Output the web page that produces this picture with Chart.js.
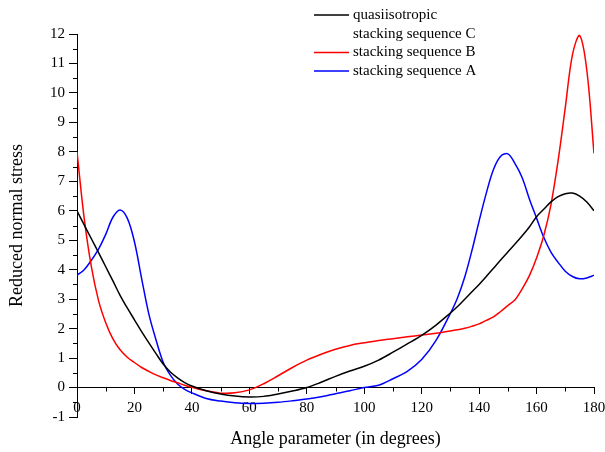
<!DOCTYPE html>
<html>
<head>
<meta charset="utf-8">
<script src="https://cdn.jsdelivr.net/npm/chart.js@4/dist/chart.umd.min.js"></script>
<style>
html,body{margin:0;padding:0;background:#fff;}
canvas{display:block;}
</style>
</head>
<body>
<canvas id="c" width="605" height="452"></canvas>
<script>
// Angle parameter (degrees)
const angles = [0,2.5,5,7.5,10,12.5,15,17.5,20,22.5,25,27.5,30,32.5,35,37.5,40,
  45,50,55,60,65,70,75,80,85,90,95,100,105,110,115,120,125,130,
  132.5,135,137.5,140,142.5,145,147.5,150,152.5,155,157.5,160,162.5,165,167.5,170,172.5,175,177.5,180];

// quasiisotropic stacking sequence C
const seqC = [6.0,5.52,5.05,4.58,4.1,3.62,3.13,2.7,2.3,1.9,1.52,1.15,0.8,0.53,0.33,0.17,0.05,
  -0.11,-0.22,-0.29,-0.32,-0.3,-0.22,-0.12,0.0,0.18,0.38,0.56,0.72,0.93,1.2,1.48,1.77,2.12,2.53,
  2.75,3.0,3.25,3.5,3.77,4.05,4.33,4.6,4.87,5.15,5.45,5.8,6.05,6.3,6.48,6.58,6.6,6.5,6.3,6.0];

// stacking sequence B
const seqB = [8.0,5.75,4.1,2.95,2.2,1.65,1.28,1.03,0.85,0.68,0.55,0.43,0.33,0.24,0.16,0.08,0.01,
  -0.11,-0.19,-0.18,-0.08,0.13,0.4,0.68,0.93,1.13,1.3,1.43,1.52,1.6,1.66,1.72,1.78,1.84,1.92,
  1.96,2.01,2.08,2.16,2.28,2.4,2.58,2.78,2.98,3.35,3.8,4.4,5.15,6.2,7.7,9.5,11.3,11.95,10.77,7.95];

// stacking sequence A
const seqA = [3.81,4.0,4.32,4.7,5.2,5.78,6.03,5.75,4.95,3.7,2.5,1.62,0.86,0.42,0.12,-0.06,-0.18,
  -0.37,-0.46,-0.52,-0.54,-0.53,-0.5,-0.45,-0.39,-0.31,-0.21,-0.11,0.0,0.08,0.3,0.55,0.95,1.6,2.52,
  3.05,3.75,4.65,5.65,6.6,7.4,7.85,7.93,7.6,7.12,6.4,5.75,5.1,4.6,4.25,3.95,3.77,3.69,3.72,3.81];

const seriesLabels = [["quasiisotropic","stacking sequence C"],"stacking sequence B","stacking sequence A"];
const seriesColors = ["#000000","#ff0000","#0000ff"];

const xTicks = [0,20,40,60,80,100,120,140,160,180];
const yTicks = [-1,0,1,2,3,4,5,6,7,8,9,10,11,12];

const FONT = "'Liberation Serif','Times New Roman',serif";

function toPts(ys){ return angles.map((a,i)=>({x:a,y:ys[i]})); }

const minorTicks = {
  id:'minorTicks',
  afterDraw(chart){
    const ctx = chart.ctx, xs = chart.scales.x, ys = chart.scales.y;
    const left = chart.chartArea.left;
    const y0 = ys.getPixelForValue(0);
    ctx.save();
    ctx.strokeStyle = '#000'; ctx.lineWidth = 1;
    ctx.beginPath();
    for (let i=0;i<yTicks.length-1;i++){
      const v = (yTicks[i]+yTicks[i+1])/2;
      const p = Math.round(ys.getPixelForValue(v))+0.5;
      ctx.moveTo(left-4,p); ctx.lineTo(left,p);
    }
    for (let i=0;i<xTicks.length-1;i++){
      const v = (xTicks[i]+xTicks[i+1])/2;
      const p = Math.round(xs.getPixelForValue(v))+0.5;
      ctx.moveTo(p,y0); ctx.lineTo(p,y0+4);
    }
    ctx.stroke();
    ctx.restore();
  }
};

const customLegend = {
  id:'customLegend',
  afterDraw(chart){
    const ctx = chart.ctx;
    ctx.save();
    ctx.font = "15px " + FONT;
    ctx.textBaseline = 'middle';
    ctx.textAlign = 'left';
    let y = 15;
    chart.data.datasets.forEach(ds=>{
      ctx.strokeStyle = ds.borderColor; ctx.lineWidth = 1.5;
      ctx.beginPath(); ctx.moveTo(314,y); ctx.lineTo(349,y); ctx.stroke();
      ctx.fillStyle = '#000';
      const lines = Array.isArray(ds.label) ? ds.label : [ds.label];
      lines.forEach((t,k)=>{ ctx.fillText(t,353,y+k*18.7); });
      y += lines.length*18.7;
    });
    ctx.restore();
  }
};

new Chart(document.getElementById('c'), {
  type:'line',
  data:{
    datasets:[seqC,seqB,seqA].map((d,i)=>({
      label: seriesLabels[i],
      data: toPts(d),
      borderColor: seriesColors[i],
      backgroundColor: seriesColors[i],
      borderWidth: 1.5,
      pointRadius: 0,
      fill: false,
      tension: 0.35
    }))
  },
  options:{
    responsive:false,
    animation:false,
    layout:{padding:{left:0,top:34,right:11,bottom:35}},
    plugins:{legend:{display:false}, tooltip:{enabled:false}},
    scales:{
      x:{
        type:'linear', min:0, max:180,
        position:{y:0},
        afterBuildTicks: s => { s.ticks = xTicks.map(v=>({value:v})); },
        afterFit: s => { s.paddingLeft = 0; s.paddingRight = 0; },
        ticks:{color:'#000', font:{family:FONT,size:15}, padding:6, maxRotation:0, autoSkip:false},
        grid:{display:true, drawOnChartArea:false, tickLength:6, color:'#000', tickColor:'#000'},
        border:{display:true, color:'#000', width:1},
        title:{display:true, text:'Angle parameter (in degrees)', color:'#000', font:{family:FONT,size:18}, padding:{top:5,bottom:0}}
      },
      y:{
        type:'linear', min:-1, max:12,
        afterBuildTicks: s => { s.ticks = yTicks.map(v=>({value:v})); },
        afterFit: s => { s.width = 77; },
        ticks:{color:'#000', font:{family:FONT,size:15}, padding:4},
        grid:{display:true, drawOnChartArea:false, tickLength:8, color:'#000', tickColor:'#000'},
        border:{display:true, color:'#000', width:1},
        title:{display:true, text:'Reduced normal stress', color:'#000', font:{family:FONT,size:18}, padding:{top:6,bottom:0}}
      }
    }
  },
  plugins:[minorTicks, customLegend]
});
</script>
</body>
</html>
